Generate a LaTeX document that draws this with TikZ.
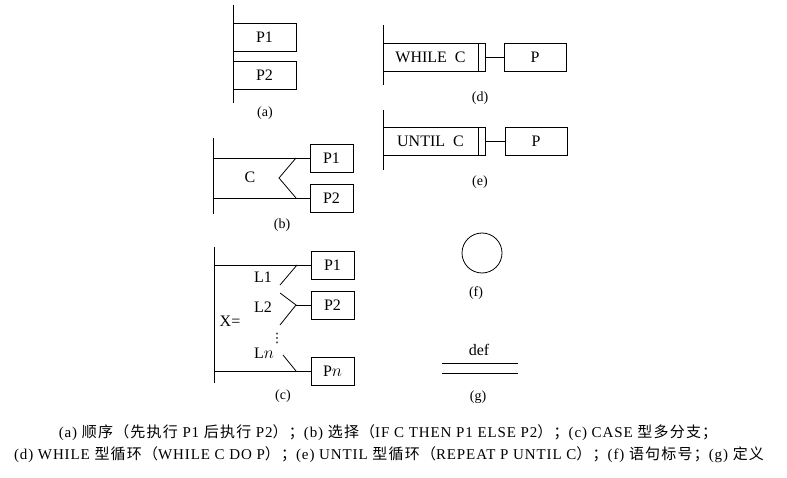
\documentclass[tikz,border=0pt]{standalone}
\usepackage{fontspec}
\usetikzlibrary{positioning}
\setmainfont{Liberation Serif}
\newfontfamily\cjk{Noto Sans CJK SC}[LetterSpace=8]
\newfontfamily\notefont{Liberation Serif}[LetterSpace=6]
\newfontfamily\symfont{DejaVu Sans}
\newcommand{\zh}[1]{{\cjk #1}}

\tikzset{
  every picture/.style={x=1pt, y=-1pt, line width=0.8pt},
  txt/.style={inner sep=0pt, font=\fontsize{16}{16}\selectfont},
  box/.style={draw, rectangle, inner sep=0pt, minimum height=28pt, font=\fontsize{16}{16}\selectfont},
  sublabel/.style={inner sep=0pt, font=\fontsize{14}{14}\selectfont},
  note/.style={inner sep=0pt, font=\fontsize{15}{15}\notefont}
}

\begin{document}
\begin{tikzpicture}
        \useasboundingbox (0,0) rectangle (787,478);

        % (a) sequence
        \coordinate (a1) at (233,5);
        \coordinate (a2) at (233,103);
        \draw (a1) -- (a2);
        \node [box, minimum width = 63pt] (ap1) at (264.5,37) {P1};
        \node [box, minimum width = 63pt] (ap2) at (264.5,75) {P2};
        \node [sublabel] (alab) at (265,113) {(a)};

        % (b) selection
        \coordinate (b1) at (213,138);
        \coordinate (b2) at (213,214);
        \draw (b1) -- (b2);
        \node [box, minimum width = 43pt] (bp1) at (331.5,158) {P1};
        \node [box, minimum width = 43pt] (bp2) at (331.5,198) {P2};
        \coordinate (bt) at (296,158);
        \coordinate (bm) at (279,178);
        \coordinate (bb) at (296,198);
        \draw (b1 |- bp1) -- (bp1.west);
        \draw (b1 |- bp2) -- (bp2.west);
        \draw (bt) -- (bm) -- (bb);
        \node [txt] (bc) at (250,177) {C};
        \node [sublabel] (blab) at (282,225) {(b)};

        % (c) case
        \coordinate (c1) at (214,247);
        \coordinate (c2) at (214,383);
        \draw (c1) -- (c2);
        \node [box, minimum width = 43pt] (cp1) at (332.5,265) {P1};
        \node [box, minimum width = 43pt] (cp2) at (332.5,305) {P2};
        \node [box, minimum width = 43pt] (cpn) at (332.5,371) {P$n$};
        \draw (c1 |- cp1) -- (cp1.west);
        \draw (c1 |- cpn) -- (cpn.west);
        \coordinate (ct) at (297,265);
        \coordinate (ck1) at (280,285);
        \coordinate (ck2) at (280,293);
        \coordinate (cm) at (296,305);
        \coordinate (ck3) at (280,325);
        \coordinate (ck4) at (283,355);
        \coordinate (cb) at (296,371);
        \draw (ct) -- (ck1);
        \draw (ck2) -- (cm) -- (ck3);
        \draw (cm) -- (cp2.west);
        \draw (ck4) -- (cb);
        \node [txt] (cl1) at (263,277) {L1};
        \node [txt] (cl2) at (263,307) {L2};
        \node [inner sep = 0pt, font = \fontsize{13}{13}\symfont] (cdots) at (277,338) {⋮};
        \node [txt] (cln) at (264,353) {L$n$};
        \node [txt] (cx) at (230,321) {X=};
        \node [sublabel] (clab) at (283,396) {(c)};

        % (d) while loop
        \coordinate (d1) at (383,25);
        \coordinate (d2) at (383,85);
        \draw (d1) -- (d2);
        \node [box, minimum width = 95pt] (dw) at (430.5,57) {WHILE~~C};
        \node [box, minimum width = 7pt, right = 0pt of dw] (dbar) {};
        \node [box, minimum width = 62pt] (dp) at (535,57) {P};
        \draw (dbar.east) -- (dp.west);
        \node [sublabel] (dlab) at (480,98) {(d)};

        % (e) until loop
        \coordinate (e1) at (383,110);
        \coordinate (e2) at (383,170);
        \draw (e1) -- (e2);
        \node [box, minimum width = 95pt] (eu) at (430.5,141) {UNTIL~~C};
        \node [box, minimum width = 7pt, right = 0pt of eu] (ebar) {};
        \node [box, minimum width = 62pt] (ep) at (536,141) {P};
        \draw (ebar.east) -- (ep.west);
        \node [sublabel] (elab) at (480,182) {(e)};

        % (f) label
        \node [draw, circle, minimum size = 40pt, inner sep = 0pt] (fc) at (482,253) {};
        \node [sublabel] (flab) at (476,293) {(f)};

        % (g) definition
        \node [txt] (gdef) at (479,350) {def};
        \coordinate (g1) at (442,363);
        \coordinate (g2) at (518,363);
        \coordinate (g3) at (442,373);
        \coordinate (g4) at (518,373);
        \draw (g1) -- (g2);
        \draw (g3) -- (g4);
        \node [sublabel] (glab) at (478,397) {(g)};

        % captions
        \node [note] (n1) at (388,433) {(a)~\zh{顺序（先执行}~P1~\zh{后执行}~P2\zh{）；}(b)~\zh{选择（}IF C THEN P1 ELSE P2\zh{）；}(c)~CASE~\zh{型多分支；}};
        \node [note] (n2) at (389,455) {(d)~WHILE~\zh{型循环（}WHILE C DO P\zh{）；}(e)~UNTIL~\zh{型循环（}REPEAT P UNTIL C\zh{）；}(f)~\zh{语句标号；}(g)~\zh{定义}};
\end{tikzpicture}
\end{document}
